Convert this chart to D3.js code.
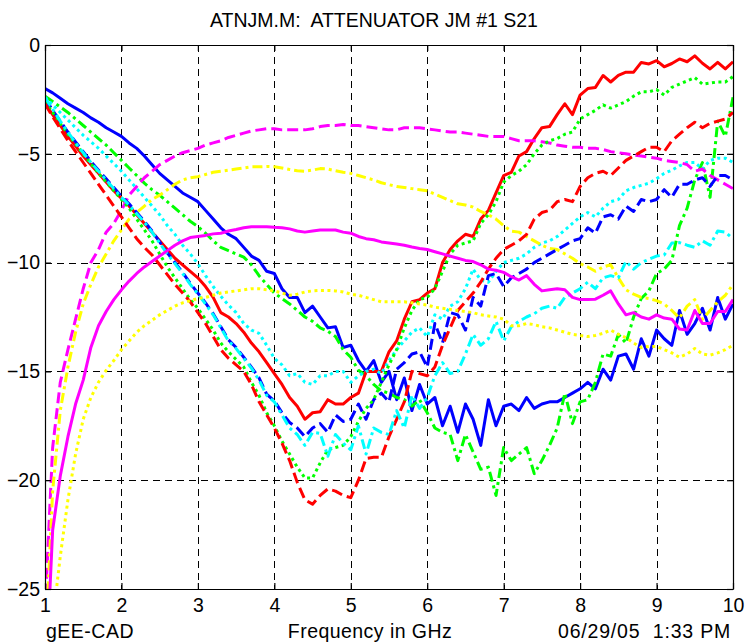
<!DOCTYPE html>
<html>
<head>
<meta charset="utf-8">
<script src="https://cdn.jsdelivr.net/npm/d3@7"></script>
<style>
  body { margin: 0; background: #fff; }
  svg text { font-family: "Liberation Sans", Arial, sans-serif; fill: #000; white-space: pre; }
</style>
</head>
<body>
<svg id="chart" width="747" height="643"></svg>
<script>
// Frequency grid, 1 to 10 GHz in 0.1 GHz steps
const freqGHz = d3.range(10, 101).map(i => i / 10);

// S21 traces in dB, one value per frequency point
const blueSolid = [-2.0,-2.2,-2.45,-2.7,-2.9,-3.1,-3.35,-3.55,-3.8,-4.0,
  -4.2,-4.5,-4.75,-5.1,-5.5,-5.9,-6.2,-6.5,-6.8,-7.0,
  -7.2,-7.6,-8.0,-8.4,-8.7,-8.9,-9.3,-9.7,-9.9,-10.4,
  -10.5,-11.2,-11.6,-11.6,-12.3,-12.0,-12.5,-13.0,-12.95,-13.9,
  -13.8,-14.5,-15.0,-14.5,-15.5,-15.0,-16.3,-15.3,-16.8,-15.6,
  -16.5,-16.2,-17.5,-16.6,-17.8,-16.5,-17.2,-18.4,-16.3,-17.5,
  -16.6,-16.5,-16.8,-16.2,-16.7,-16.5,-16.4,-16.4,-16.2,-16.0,
  -15.8,-15.5,-15.8,-14.9,-15.4,-14.3,-14.2,-14.9,-13.5,-14.3,
  -13.1,-13.5,-13.8,-12.2,-13.3,-12.8,-12.1,-13.1,-11.6,-12.6,-11.9];

const blueDashed = [-2.45,-3.0,-3.5,-4.0,-4.45,-4.9,-5.35,-5.75,-6.15,-6.55,
  -6.95,-7.3,-7.7,-8.1,-8.55,-9.05,-9.55,-10.0,-10.45,-10.95,
  -11.4,-11.85,-12.35,-12.95,-13.55,-13.9,-14.35,-14.8,-15.3,-16.05,
  -16.35,-16.9,-17.35,-17.6,-18.0,-17.6,-17.4,-17.8,-17.0,-17.3,
  -17.2,-16.5,-17.2,-16.3,-16.0,-16.4,-14.9,-14.6,-14.2,-14.1,
  -14.8,-12.8,-13.7,-12.3,-12.4,-13.1,-11.6,-12.0,-10.6,-10.5,
  -11.1,-10.7,-10.5,-10.3,-10.0,-9.8,-9.6,-9.4,-9.2,-9.0,
  -8.9,-8.4,-8.65,-7.9,-7.8,-8.0,-7.4,-7.65,-7.1,-7.2,
  -7.1,-6.65,-7.0,-6.4,-6.4,-6.2,-6.1,-6.5,-6.0,-6.0,-6.2];

const redSolid = [-2.7,-3.2,-3.7,-4.2,-4.65,-5.1,-5.5,-5.9,-6.3,-6.7,
  -7.05,-7.4,-7.8,-8.2,-8.6,-9.0,-9.4,-9.8,-10.1,-10.4,
  -10.7,-11.1,-11.6,-12.3,-12.5,-12.8,-13.2,-13.7,-14.1,-14.6,
  -15.1,-15.6,-16.2,-16.6,-17.2,-16.9,-16.85,-16.3,-16.5,-16.5,
  -16.2,-16.0,-15.0,-15.0,-15.0,-14.1,-13.6,-12.6,-11.8,-11.7,
  -11.4,-11.2,-10.0,-9.4,-9.0,-8.7,-8.8,-8.0,-7.6,-6.8,
  -6.0,-5.85,-5.1,-4.9,-4.3,-3.8,-3.75,-3.2,-2.7,-3.2,
  -2.3,-2.0,-1.95,-1.4,-1.7,-1.4,-1.25,-1.25,-0.8,-0.87,
  -0.72,-1.0,-0.85,-0.64,-0.77,-0.5,-0.84,-1.1,-0.8,-1.1,-0.77];

const redDashed = [-2.7,-3.3,-3.85,-4.4,-4.9,-5.4,-5.9,-6.4,-6.9,-7.4,
  -7.9,-8.4,-8.9,-9.3,-9.65,-10.1,-10.55,-11.0,-11.4,-11.8,
  -12.3,-12.8,-13.4,-14.0,-14.4,-14.7,-15.0,-15.6,-16.4,-17.0,
  -17.6,-18.3,-19.1,-20.1,-20.9,-21.1,-20.7,-20.4,-20.5,-20.7,
  -20.8,-20.0,-19.0,-18.95,-18.95,-18.0,-17.2,-16.4,-15.0,-15.1,
  -15.2,-14.8,-13.8,-13.0,-12.2,-11.8,-11.4,-10.9,-10.3,-9.8,
  -9.4,-9.2,-9.0,-8.7,-8.0,-7.7,-7.6,-7.2,-7.1,-7.2,
  -6.5,-6.1,-5.9,-5.8,-6.0,-5.65,-5.3,-5.1,-4.9,-4.7,
  -4.7,-4.9,-4.4,-4.1,-3.8,-3.55,-3.8,-3.6,-3.5,-3.4,-3.1];

const greenDotted = [-2.6,-3.1,-3.6,-4.1,-4.55,-5.0,-5.45,-5.9,-6.3,-6.7,
  -7.1,-7.5,-8.0,-8.5,-9.0,-9.6,-10.2,-10.7,-11.2,-11.7,
  -12.1,-12.6,-13.1,-13.7,-14.1,-14.45,-14.8,-15.5,-16.1,-16.9,
  -17.5,-18.2,-18.8,-19.4,-19.9,-19.9,-19.2,-18.6,-18.5,-18.4,
  -18.0,-17.3,-16.7,-16.3,-15.5,-14.7,-14.0,-13.0,-12.2,-11.7,
  -11.6,-11.2,-10.4,-9.6,-9.2,-9.1,-9.0,-8.2,-7.8,-7.2,
  -6.3,-6.0,-5.8,-5.5,-5.0,-4.6,-4.4,-4.3,-4.1,-4.0,
  -3.4,-3.2,-3.0,-2.75,-2.9,-2.75,-2.6,-2.35,-2.15,-2.15,
  -2.05,-2.3,-1.95,-1.8,-1.65,-1.5,-1.8,-1.75,-1.7,-1.7,-1.45];

const greenDashDot = [-2.35,-2.6,-2.85,-3.1,-3.4,-3.7,-4.0,-4.3,-4.6,-4.95,
  -5.3,-5.65,-6.0,-6.35,-6.65,-6.9,-7.2,-7.5,-7.8,-8.1,
  -8.35,-8.65,-9.0,-9.3,-9.45,-9.6,-9.75,-10.1,-10.6,-11.0,
  -11.4,-11.65,-11.9,-12.2,-12.5,-12.7,-13.0,-13.15,-13.4,-14.0,
  -14.35,-14.95,-15.2,-15.6,-15.9,-16.0,-16.2,-16.3,-16.6,-16.3,
  -16.9,-17.6,-17.8,-17.9,-19.1,-17.9,-18.7,-19.5,-19.4,-20.7,
  -18.5,-19.1,-18.8,-18.5,-19.7,-19.1,-18.4,-17.6,-16.0,-17.4,
  -16.4,-16.3,-15.5,-14.2,-14.3,-13.3,-13.7,-12.5,-11.65,-11.3,
  -10.5,-10.3,-9.9,-8.3,-7.5,-6.2,-5.4,-7.0,-3.5,-4.2,-2.4];

const cyanDotted = [-2.4,-2.75,-3.1,-3.45,-3.8,-4.15,-4.45,-4.75,-5.1,-5.45,
  -5.8,-6.2,-6.6,-7.0,-7.4,-7.8,-8.3,-8.7,-9.2,-9.6,
  -10.05,-10.6,-11.1,-11.55,-11.95,-12.3,-12.8,-13.1,-13.25,-13.8,
  -14.4,-14.7,-15.2,-15.1,-15.5,-15.6,-15.2,-15.2,-15.0,-15.0,
  -15.5,-15.2,-15.0,-14.9,-15.1,-14.5,-14.0,-13.6,-13.2,-13.0,
  -13.4,-12.4,-12.6,-12.0,-11.8,-11.2,-10.3,-10.8,-10.9,-10.4,
  -10.0,-9.9,-9.8,-9.6,-9.3,-9.1,-9.0,-8.8,-8.5,-8.2,
  -7.9,-7.7,-7.9,-7.5,-7.2,-7.1,-6.7,-6.55,-6.45,-6.35,
  -6.15,-5.9,-5.75,-5.55,-5.4,-5.4,-5.7,-5.3,-5.2,-5.2,-5.4];

const cyanDashDot = [-2.4,-2.95,-3.5,-4.0,-4.5,-4.95,-5.4,-5.8,-6.2,-6.6,
  -7.0,-7.35,-7.75,-8.15,-8.6,-9.1,-9.6,-10.05,-10.5,-11.0,
  -11.45,-11.9,-12.4,-13.0,-13.6,-13.95,-14.4,-14.85,-15.4,-16.1,
  -16.4,-17.0,-17.6,-17.9,-18.4,-17.8,-17.85,-18.9,-17.9,-18.3,
  -18.6,-17.5,-18.8,-17.6,-17.8,-17.9,-16.8,-17.6,-16.1,-16.7,
  -16.2,-15.2,-14.6,-15.1,-15.0,-14.2,-13.3,-13.8,-13.5,-12.7,
  -13.6,-12.95,-12.7,-12.5,-12.35,-12.1,-12.0,-12.1,-11.6,-11.4,
  -11.2,-10.9,-11.2,-10.7,-10.6,-10.7,-9.95,-10.3,-10.0,-9.85,
  -9.7,-9.65,-9.1,-9.08,-9.2,-9.3,-9.0,-9.2,-8.55,-8.6,-8.9];

const magentaDashed = [-26.0,-18.5,-15.5,-14.0,-12.6,-11.2,-10.0,-9.4,-8.6,-8.2,
  -7.6,-6.9,-6.5,-6.1,-5.8,-5.5,-5.3,-5.1,-4.95,-4.85,
  -4.75,-4.6,-4.5,-4.4,-4.25,-4.15,-4.05,-3.95,-3.9,-3.85,
  -3.85,-3.9,-3.9,-3.9,-3.9,-3.85,-3.75,-3.7,-3.7,-3.65,
  -3.7,-3.7,-3.75,-3.8,-3.85,-3.9,-3.9,-3.8,-3.8,-3.8,
  -3.85,-3.9,-3.95,-4.0,-4.0,-4.05,-4.1,-4.15,-4.2,-4.2,
  -4.2,-4.3,-4.4,-4.4,-4.4,-4.45,-4.5,-4.6,-4.65,-4.7,
  -4.7,-4.75,-4.75,-4.8,-4.9,-4.95,-5.0,-5.05,-5.1,-5.15,
  -5.2,-5.3,-5.35,-5.4,-5.5,-5.8,-5.7,-6.0,-6.2,-6.4,-6.6];

const magentaSolid = [-30.0,-22.3,-19.8,-18.0,-16.5,-15.4,-13.9,-12.9,-12.25,-11.7,
  -11.25,-10.85,-10.5,-10.2,-9.95,-9.7,-9.45,-9.2,-9.0,-8.85,
  -8.8,-8.75,-8.68,-8.65,-8.55,-8.48,-8.4,-8.35,-8.35,-8.35,
  -8.38,-8.4,-8.45,-8.55,-8.6,-8.55,-8.5,-8.5,-8.5,-8.6,
  -8.65,-8.8,-8.9,-8.95,-9.05,-9.1,-9.15,-9.2,-9.28,-9.35,
  -9.4,-9.5,-9.6,-9.7,-9.8,-9.9,-9.95,-10.1,-10.3,-10.35,
  -10.45,-10.65,-10.8,-10.6,-11.0,-11.3,-11.25,-11.2,-11.25,-11.6,
  -11.7,-11.7,-11.68,-11.5,-11.3,-11.9,-12.4,-12.3,-12.5,-12.6,
  -12.4,-12.55,-12.6,-13.05,-13.1,-12.2,-12.8,-12.8,-12.25,-12.25,-11.7];

const yellowDashDot = [-28.0,-20.5,-16.8,-14.8,-13.2,-11.9,-11.0,-10.2,-9.6,-9.0,
  -8.5,-8.0,-7.7,-7.4,-7.1,-6.9,-6.65,-6.4,-6.2,-6.1,
  -6.05,-5.95,-5.85,-5.8,-5.75,-5.7,-5.65,-5.6,-5.6,-5.58,
  -5.6,-5.65,-5.72,-5.78,-5.8,-5.75,-5.68,-5.7,-5.78,-5.85,
  -5.9,-6.0,-6.1,-6.2,-6.33,-6.42,-6.5,-6.55,-6.6,-6.65,
  -6.7,-6.85,-7.0,-7.15,-7.3,-7.35,-7.45,-7.65,-7.8,-8.0,
  -8.3,-8.55,-8.6,-8.8,-9.0,-9.2,-9.35,-9.4,-9.6,-9.8,
  -10.05,-10.2,-10.4,-10.2,-10.1,-10.7,-11.25,-11.45,-11.6,-11.65,
  -11.75,-11.9,-12.2,-12.55,-12.0,-11.7,-12.6,-12.2,-11.8,-11.5,-11.0];

const yellowDotted = [-35.0,-26.5,-23.5,-20.9,-18.8,-17.2,-16.2,-15.5,-14.95,-14.5,
  -14.0,-13.6,-13.2,-12.9,-12.65,-12.4,-12.2,-12.0,-11.85,-11.75,
  -11.65,-11.6,-11.5,-11.4,-11.35,-11.3,-11.25,-11.2,-11.2,-11.25,
  -11.3,-11.4,-11.5,-11.45,-11.35,-11.3,-11.28,-11.28,-11.3,-11.35,
  -11.45,-11.5,-11.6,-11.7,-11.8,-11.8,-11.8,-11.8,-11.85,-11.9,
  -11.95,-12.05,-12.1,-12.15,-12.2,-12.25,-12.3,-12.4,-12.45,-12.5,
  -12.6,-12.9,-12.9,-12.8,-12.85,-12.95,-13.0,-13.1,-13.2,-13.3,
  -13.35,-13.4,-13.35,-13.25,-13.1,-13.3,-13.45,-13.7,-13.9,-13.85,
  -13.85,-14.0,-14.15,-14.35,-14.2,-13.95,-14.2,-14.25,-14.15,-14.0,-13.8];

// Axis ticks and texts
const xTicks = [1, 2, 3, 4, 5, 6, 7, 8, 9, 10];
const yTicks = [0, -5, -10, -15, -20, -25];
const titleText = "ATNJM.M:  ATTENUATOR JM #1 S21";
const xLabelText = "Frequency in GHz";
const leftFooter = "gEE-CAD";
const rightFooter = "06/29/05  1:33 PM";

// Line style patterns
const DASHED = "11,5";
const DOTTED = "3,3.5";
const DASHDOT = "10,4,3,4";

// Trace styling table (drawing order)
const traces = [
  { values: blueSolid,     color: "#0000ff", dash: null },
  { values: greenDashDot,  color: "#00ff00", dash: DASHDOT },
  { values: redSolid,      color: "#ff0000", dash: null },
  { values: cyanDotted,    color: "#00ffff", dash: DOTTED },
  { values: magentaDashed, color: "#ff00ff", dash: DASHED },
  { values: yellowDashDot, color: "#ffff00", dash: DASHDOT },
  { values: blueDashed,    color: "#0000ff", dash: DASHED },
  { values: greenDotted,   color: "#00ff00", dash: DOTTED },
  { values: redDashed,     color: "#ff0000", dash: DASHED },
  { values: cyanDashDot,   color: "#00ffff", dash: DASHDOT },
  { values: magentaSolid,  color: "#ff00ff", dash: null },
  { values: yellowDotted,  color: "#ffff00", dash: DOTTED }
];

const svg = d3.select("#chart");
const plot = { left: 45, right: 733, top: 45, bottom: 589 };
const fontSize = 19.5;

const x = d3.scaleLinear().domain([1, 10]).range([plot.left, plot.right]);
const y = d3.scaleLinear().domain([-25, 0]).range([plot.bottom, plot.top]);

svg.append("rect").attr("width", 747).attr("height", 643).attr("fill", "#fff");

svg.append("defs").append("clipPath").attr("id", "plotClip")
  .append("rect")
  .attr("x", plot.left).attr("y", plot.top)
  .attr("width", plot.right - plot.left).attr("height", plot.bottom - plot.top);

// Dashed grid
const grid = svg.append("g").attr("stroke", "#000").attr("stroke-width", 1)
  .attr("stroke-dasharray", "7,5").attr("shape-rendering", "crispEdges");
grid.selectAll("line.v").data(xTicks.filter(d => d > 1 && d < 10)).join("line")
  .attr("class", "v")
  .attr("x1", d => Math.round(x(d)) + 0.5).attr("x2", d => Math.round(x(d)) + 0.5)
  .attr("y1", plot.top).attr("y2", plot.bottom);
grid.selectAll("line.h").data(yTicks.filter(d => d < 0 && d > -25)).join("line")
  .attr("class", "h")
  .attr("y1", d => Math.round(y(d)) + 0.5).attr("y2", d => Math.round(y(d)) + 0.5)
  .attr("x1", plot.left).attr("x2", plot.right);

// Traces
const line = d3.line().x((d, i) => x(freqGHz[i])).y(d => y(d));
svg.append("g").attr("clip-path", "url(#plotClip)")
  .selectAll("path").data(traces).join("path")
  .attr("d", d => line(d.values))
  .attr("fill", "none")
  .attr("stroke", d => d.color)
  .attr("stroke-width", 3)
  .attr("stroke-linejoin", "round")
  .attr("stroke-dasharray", d => d.dash);

// Axes (ticks pointing inward, box on all sides)
const tickLen = 6;
const xAxisBottom = d3.axisBottom(x).tickValues(xTicks).tickSizeInner(-tickLen).tickSizeOuter(0).tickPadding(9).tickFormat(d3.format("d"));
const xAxisTop = d3.axisTop(x).tickValues(xTicks).tickSizeInner(-tickLen).tickSizeOuter(0).tickFormat("");
const yAxisLeft = d3.axisLeft(y).tickValues(yTicks).tickSizeInner(-tickLen).tickSizeOuter(0).tickPadding(5).tickFormat(d3.format("d"));
const yAxisRight = d3.axisRight(y).tickValues(yTicks).tickSizeInner(-tickLen).tickSizeOuter(0).tickFormat("");

function styleAxis(g) {
  g.select(".domain").attr("stroke", "#000").attr("stroke-width", 1.2);
  g.selectAll(".tick line").attr("stroke", "#000").attr("stroke-width", 1.2);
  g.selectAll(".tick text").attr("font-size", fontSize).attr("fill", "#000")
    .attr("font-family", "'Liberation Sans', Arial, sans-serif");
}

svg.append("g").attr("transform", `translate(0,${plot.bottom})`).call(xAxisBottom).call(styleAxis);
svg.append("g").attr("transform", `translate(0,${plot.top})`).call(xAxisTop).call(styleAxis);
svg.append("g").attr("transform", `translate(${plot.left},0)`).call(yAxisLeft).call(styleAxis);
svg.append("g").attr("transform", `translate(${plot.right},0)`).call(yAxisRight).call(styleAxis);

// Title and footer texts
const label = (tx, ty, anchor, str, spacing) => svg.append("text")
  .attr("x", tx).attr("y", ty).attr("text-anchor", anchor)
  .attr("font-size", fontSize).attr("letter-spacing", spacing).text(str);
label(374, 27, "middle", titleText, 0);
label(46, 638, "start", leftFooter, 0.5);
label(370, 638, "middle", xLabelText, 0.45);
label(731, 638, "end", rightFooter, 0.8);
</script>
</body>
</html>
